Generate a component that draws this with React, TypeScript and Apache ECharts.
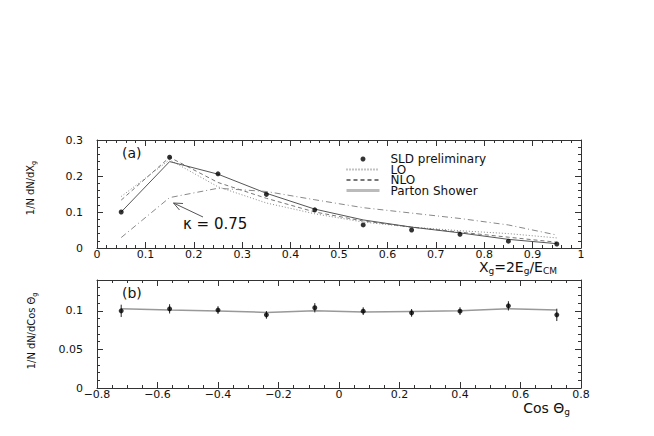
import React, { useEffect, useRef } from "react";
import * as echarts from "echarts";

// Panel (a): x_g distribution
const xgBins = [0.05, 0.15, 0.25, 0.35, 0.45, 0.55, 0.65, 0.75, 0.85, 0.95];
const sldXg = [0.1, 0.252, 0.206, 0.149, 0.106, 0.064, 0.05, 0.038, 0.019, 0.011];
const loXg = [0.143, 0.245, 0.17, 0.125, 0.095, 0.072, 0.058, 0.048, 0.04, 0.028];
const nloXg = [0.133, 0.252, 0.182, 0.138, 0.1, 0.075, 0.058, 0.044, 0.03, 0.016];
const psXg = [0.1, 0.24, 0.205, 0.152, 0.108, 0.078, 0.058, 0.042, 0.024, 0.012];
const kappaXg = [0.029, 0.14, 0.166, 0.157, 0.134, 0.112, 0.097, 0.082, 0.064, 0.036];

// Panel (b): cos theta_g distribution
const cosBins = [-0.72, -0.56, -0.4, -0.24, -0.08, 0.08, 0.24, 0.4, 0.56, 0.72];
const sldCos = [0.1, 0.1026, 0.101, 0.0948, 0.104, 0.0996, 0.0974, 0.0996, 0.1065, 0.0948];
const sldCosErr = [0.008, 0.006, 0.005, 0.005, 0.006, 0.005, 0.005, 0.005, 0.006, 0.008];
const psCos = [0.1026, 0.101, 0.0997, 0.098, 0.1, 0.0985, 0.0992, 0.1, 0.1026, 0.101];

const FONT = "DejaVu Sans";
const COND = "DejaVu Sans Condensed, DejaVu Sans";
const FRAME = "#333";

function axisBase(extra: any) {
  return {
    axisLine: { show: true, onZero: false, lineStyle: { color: FRAME, width: 1 } },
    axisTick: { show: true, inside: true, length: 6, lineStyle: { color: FRAME } },
    minorTick: { show: true, length: 3, lineStyle: { color: FRAME } },
    splitLine: { show: false },
    axisLabel: { show: false },
    ...extra,
  };
}

const labelStyle = { color: "#111", fontFamily: FONT, fontSize: 11 };
const hidden = { opacity: 0 };

export default function App() {
  const ref = useRef<HTMLDivElement>(null);
  useEffect(() => {
    if (!ref.current) return;
    const chart = echarts.init(ref.current, null, { renderer: "svg" });
    const pair = (xs: number[], ys: number[]) => xs.map((x, i) => [x, ys[i]]);
    const sub = (x: number, y: number, text: string, size: number, align: string, rot?: number, family = FONT) => ({
      type: "text", x, y, rotation: rot || 0,
      style: {
        text, align, verticalAlign: "middle", fill: "#111",
        rich: {
          m: { fontFamily: family, fontSize: size, lineHeight: size + 3, fill: "#111" },
          s: { fontFamily: family, fontSize: Math.round(size * 0.62), lineHeight: Math.round(size * 0.62), verticalAlign: "bottom", fill: "#111" },
        },
      },
    });
    const option: any = {
      animation: false,
      backgroundColor: "#fff",
      grid: [
        { left: 97, top: 140, width: 484, height: 108 },
        { left: 97, top: 280, width: 484, height: 108 },
      ],
      xAxis: [
        axisBase({
          gridIndex: 0, type: "value", min: 0, max: 1, interval: 0.1, position: "bottom",
          minorTick: { show: true, splitNumber: 5, length: 3, lineStyle: { color: FRAME } },
          axisLabel: { show: true, margin: 1, ...labelStyle },
        }),
        axisBase({
          gridIndex: 0, type: "value", min: 0, max: 1, interval: 0.1, position: "top",
          minorTick: { show: true, splitNumber: 5, length: 3, lineStyle: { color: FRAME } },
        }),
        axisBase({
          gridIndex: 1, type: "value", min: -0.8, max: 0.8, interval: 0.2, position: "bottom",
          minorTick: { show: true, splitNumber: 4, length: 3, lineStyle: { color: FRAME } },
          axisLabel: {
            show: true, margin: 1, ...labelStyle,
            formatter: (v: number) => (Math.abs(v) < 1e-9 ? "0" : v < 0 ? "\u2212" + Math.abs(v).toFixed(1) : v.toFixed(1)),
          },
        }),
        axisBase({
          gridIndex: 1, type: "value", min: -0.8, max: 0.8, interval: 0.2, position: "top",
          minorTick: { show: true, splitNumber: 4, length: 3, lineStyle: { color: FRAME } },
        }),
      ],
      yAxis: [
        axisBase({
          gridIndex: 0, type: "value", min: 0, max: 0.3, interval: 0.1, position: "left",
          minorTick: { show: true, splitNumber: 5, length: 3, lineStyle: { color: FRAME } },
          axisLabel: { show: true, margin: 14, ...labelStyle },
        }),
        axisBase({
          gridIndex: 0, type: "value", min: 0, max: 0.3, interval: 0.1, position: "right",
          minorTick: { show: true, splitNumber: 5, length: 3, lineStyle: { color: FRAME } },
        }),
        axisBase({
          gridIndex: 1, type: "value", min: 0, max: 0.14, interval: 0.05, position: "left",
          minorTick: { show: true, splitNumber: 5, length: 3, lineStyle: { color: FRAME } },
          axisLabel: { show: true, margin: 14, showMaxLabel: false, ...labelStyle },
        }),
        axisBase({
          gridIndex: 1, type: "value", min: 0, max: 0.14, interval: 0.05, position: "right",
          minorTick: { show: true, splitNumber: 5, length: 3, lineStyle: { color: FRAME } },
        }),
      ],
      legend: {
        orient: "vertical",
        left: 340,
        top: 148,
        itemWidth: 33,
        itemHeight: 5,
        itemGap: -1.5,
        selectedMode: false,
        textStyle: { fontFamily: FONT, fontSize: 12, color: "#111", padding: [0, 0, 0, 6] },
        data: [
          { name: "SLD preliminary", icon: "circle", itemStyle: { color: "#000" } },
          { name: "LO", itemStyle: hidden },
          { name: "NLO", itemStyle: hidden },
          { name: "Parton Shower", itemStyle: hidden, lineStyle: { color: "#bbb", width: 3 } },
        ],
      },
      series: [
        {
          name: "LO", type: "line", xAxisIndex: 0, yAxisIndex: 0, data: pair(xgBins, loXg),
          symbol: "none", lineStyle: { color: "#888", width: 1, type: [1, 2] }, itemStyle: { color: "#888" },
        },
        {
          name: "NLO", type: "line", xAxisIndex: 0, yAxisIndex: 0, data: pair(xgBins, nloXg),
          symbol: "none", lineStyle: { color: "#777", width: 1, type: [4, 3] }, itemStyle: { color: "#777" },
        },
        {
          name: "Parton Shower", type: "line", xAxisIndex: 0, yAxisIndex: 0, data: pair(xgBins, psXg),
          symbol: "none", lineStyle: { color: "#555", width: 1 }, itemStyle: { color: "#555" },
        },
        {
          name: "kappa 0.75", type: "line", xAxisIndex: 0, yAxisIndex: 0, data: pair(xgBins, kappaXg),
          symbol: "none", lineStyle: { color: "#888", width: 1, type: [6, 3, 1, 3] },
        },
        {
          name: "SLD preliminary", type: "scatter", xAxisIndex: 0, yAxisIndex: 0, data: pair(xgBins, sldXg),
          symbol: "circle", symbolSize: 5, itemStyle: { color: "#000" }, z: 5,
        },
        {
          name: "PS cos", type: "line", xAxisIndex: 2, yAxisIndex: 2, data: pair(cosBins, psCos),
          symbol: "none", lineStyle: { color: "#999", width: 1.5 },
        },
        {
          name: "SLD cos err", type: "custom", xAxisIndex: 2, yAxisIndex: 2,
          data: cosBins.map((x, i) => [x, sldCos[i], sldCosErr[i]]),
          encode: { x: 0, y: 1 },
          renderItem: (params: any, api: any) => {
            const x = api.value(0), y = api.value(1), e = api.value(2);
            const lo = api.coord([x, y - e]);
            const hi = api.coord([x, y + e]);
            return {
              type: "line",
              shape: { x1: lo[0], y1: lo[1], x2: hi[0], y2: hi[1] },
              style: { stroke: "#222", lineWidth: 1 },
            };
          },
          z: 4,
        },
        {
          name: "SLD cos", type: "scatter", xAxisIndex: 2, yAxisIndex: 2, data: pair(cosBins, sldCos),
          symbol: "circle", symbolSize: 5, itemStyle: { color: "#000" }, z: 5,
        },
      ],
      graphic: [
        { type: "text", x: 122, y: 153, style: { text: "(a)", fontFamily: FONT, fontSize: 14, fill: "#111", verticalAlign: "middle" } },
        { type: "text", x: 122, y: 293, style: { text: "(b)", fontFamily: FONT, fontSize: 14, fill: "#111", verticalAlign: "middle" } },
        { type: "text", x: 183, y: 224, style: { text: "\u03ba = 0.75", fontFamily: FONT, fontSize: 15, fill: "#111", verticalAlign: "middle" } },
        { type: "line", shape: { x1: 203, y1: 217, x2: 173.5, y2: 203 }, style: { stroke: "#555", lineWidth: 1 } },
        { type: "polyline", shape: { points: [[183, 203.5], [173.5, 203], [179.5, 210]] }, style: { stroke: "#555", lineWidth: 1, fill: null } },
        sub(557, 267, "{m|X}{s|g}{m|=2E}{s|g}{m|/E}{s|CM}", 14, "right"),
        sub(570, 408, "{m|Cos \u0398}{s|g}", 14, "right"),
        sub(30, 188, "{m|1/N dN/dX}{s|g}", 11, "center", Math.PI / 2, COND),
        sub(31, 331, "{m|1/N dN/dCos \u0398}{s|g}", 11, "center", Math.PI / 2, COND),
      ],
    };
    chart.setOption(option);
    return () => chart.dispose();
  }, []);
  return <div ref={ref} style={{ position: "absolute", left: 0, top: 0, width: 654, height: 436 }} />;
}
